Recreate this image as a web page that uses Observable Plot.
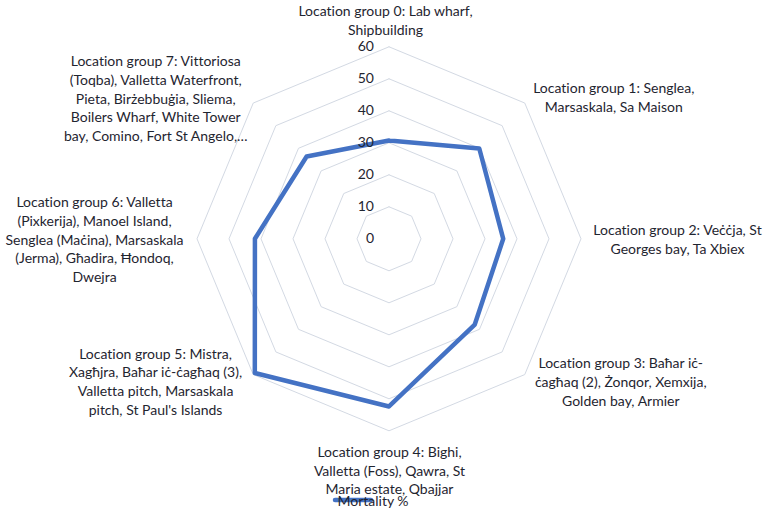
<!DOCTYPE html>
<html><head><meta charset="utf-8">
<script src="https://cdn.jsdelivr.net/npm/d3@7"></script>
<script src="https://cdn.jsdelivr.net/npm/@observablehq/plot@0.6"></script>
<style>body{margin:0;background:#fff;} svg{display:block; font-variant-ligatures:none; font-feature-settings:"liga" 0;}</style>
</head><body><div id="chart"></div>
<script>
const categories = [
  "Location group 0: Lab wharf,\nShipbuilding",
  "Location group 1: Senglea,\nMarsaskala, Sa Maison",
  "Location group 2: Veċċja, St\nGeorges bay, Ta Xbiex",
  "Location group 3: Baħar iċ-\nċagħaq (2), Żonqor, Xemxija,\nGolden bay, Armier",
  "Location group 4: Bighi,\nValletta (Foss), Qawra, St\nMaria estate, Qbajjar",
  "Location group 5: Mistra,\nXagħjra, Baħar iċ-ċagħaq (3),\nValletta pitch, Marsaskala\npitch, St Paul's Islands",
  "Location group 6: Valletta\n(Pixkerija), Manoel Island,\nSenglea (Maċina), Marsaskala\n(Jerma), Għadira, Ħondoq,\nDwejra",
  "Location group 7: Vittoriosa\n(Toqba), Valletta Waterfront,\nPieta, Birżebbuġia, Sliema,\nBoilers Wharf, White Tower\nbay, Comino, Fort St Angelo,…"
];
const mortality = [30.7, 39.9, 35.7, 37.9, 52.4, 59.3, 41.9, 36.4];
const tickValues = [0, 10, 20, 30, 40, 50, 60];
const seriesName = "Mortality %";

const W = 765, H = 509, cxPx = 388.5, cyPx = 238.3, k = 3.2;
const rMax = 60;
const n = categories.length;
const ang = i => 2 * Math.PI * i / n;
const px = (i, r) => r * Math.sin(ang(i));
const py = (i, r) => r * Math.cos(ang(i));

const lineColor = "#4472C4";
const gridColor = "#d3d9e3";
const textColor = "#1f2530";
const font = "Lato, 'Open Sans', sans-serif";
const fs = 14;

// polygon data
const series = d3.range(n + 1).map(j => ({x: px(j % n, mortality[j % n]), y: py(j % n, mortality[j % n])}));
const rings = tickValues.filter(v => v > 0).flatMap(v => d3.range(n + 1).map(j => ({ring: v, x: px(j % n, v), y: py(j % n, v)})));

// label placement nudges (pixels) from axis end
const nudge = [[-3.5,-27],[89,-6.5],[96.5,0],[96,6.5],[0.5,39],[-97.7,6],[-102.5,0],[-97.5,-5.5]];
const labels = categories.map((c, i) => ({
  text: c,
  x: px(i, rMax) + nudge[i][0] / k,
  y: py(i, rMax) - nudge[i][1] / k
}));

const chart = Plot.plot({
  width: W, height: H,
  margin: 0,
  x: {domain: [-cxPx / k, (W - cxPx) / k], axis: null},
  y: {domain: [-(H - cyPx) / k, cyPx / k], axis: null},
  style: {fontFamily: font, background: "#fff"},
  marks: [
    Plot.line(rings, {x: "x", y: "y", z: "ring", stroke: gridColor, strokeWidth: 1}),
    Plot.line(series, {x: "x", y: "y", stroke: lineColor, strokeWidth: 4.5, strokeLinejoin: "round"}),
    Plot.text(tickValues, {x: 0, y: d => d, text: d => String(d), textAnchor: "end", dx: -15, fontSize: fs, fill: textColor, lineAnchor: "middle"}),
    Plot.text(labels, {x: "x", y: "y", text: "text", textAnchor: "middle", lineAnchor: "middle", fontSize: fs, lineHeight: 18.7 / fs, fill: textColor}),
    (index, scales, values, dims) => {
      const g = d3.create("svg:g");
      const x0 = scales.x(0);
      const yb = dims.height - 9;
      g.append("line").attr("x1", x0 - 53.5).attr("x2", x0 - 17.5).attr("y1", yb).attr("y2", yb)
        .attr("stroke", lineColor).attr("stroke-width", 4.5).attr("stroke-linecap", "round");
      g.append("text").attr("x", x0 - 15.5).attr("y", yb).attr("dy", "0.4em")
        .attr("fill", textColor).attr("font-size", fs).attr("font-family", font).text(seriesName);
      return g.node();
    }
  ]
});
document.getElementById("chart").append(chart);
</script>
</body></html>
